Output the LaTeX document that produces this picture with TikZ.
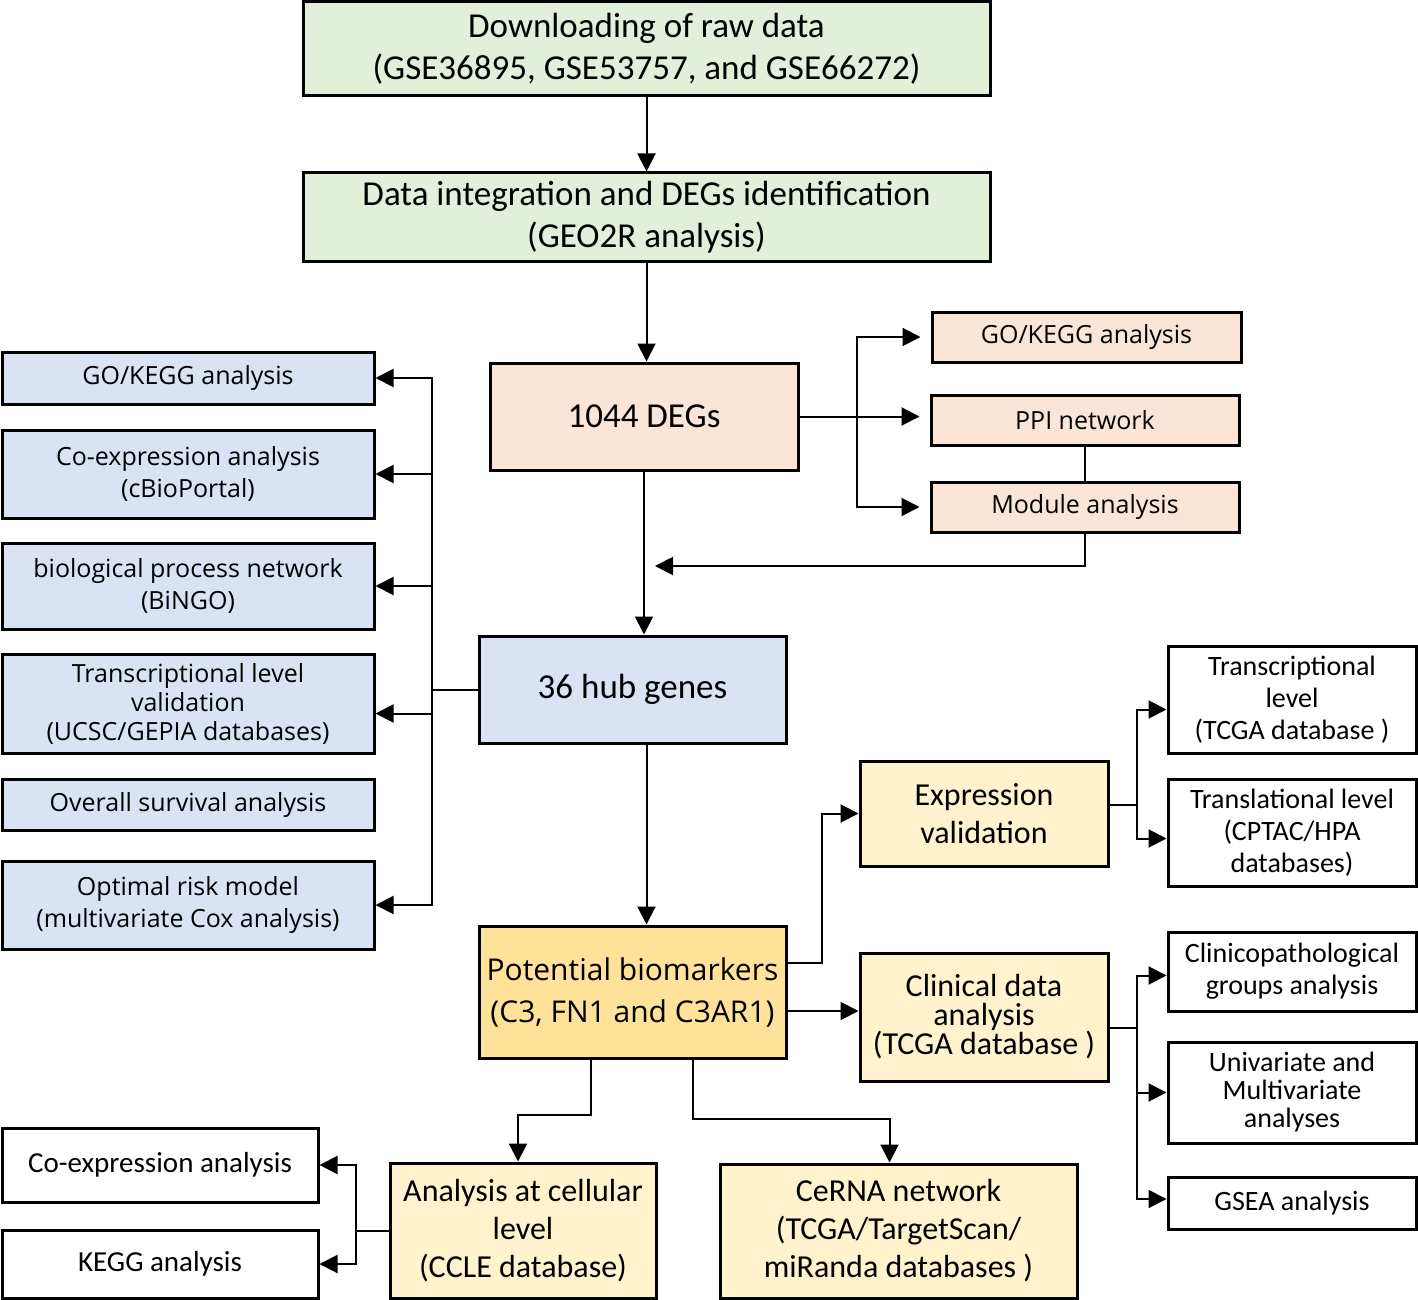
\documentclass[tikz,border=0pt]{standalone}
\usepackage{fontspec}
\setmainfont{Carlito}
\newfontfamily\osfont{Open Sans}
\usetikzlibrary{positioning}
\usetikzlibrary{arrows.meta}
\definecolor{flowgreen}{HTML}{E2EFD9}
\definecolor{flowsalmon}{HTML}{FBE5D6}
\definecolor{flowblue}{HTML}{DAE3F3}
\definecolor{flowgold}{HTML}{FFE29A}
\definecolor{flowcream}{HTML}{FFF2CC}

\begin{document}
\begin{tikzpicture}[x=0.5pt, y=-0.5pt,
        box/.style={draw=black, line width=1.5pt, align=center, inner sep=1pt, text=black},
        bigfont/.style={font=\fontsize{17.5}{21}\selectfont},
        midfont/.style={font=\fontsize{16}{19}\selectfont},
        smallfont/.style={font=\fontsize{14}{16}\selectfont},
        osfont/.style={font=\osfont\fontsize{12.5}{16}\selectfont},
        arr/.style={line width=1pt, -{Triangle[length=9pt,width=9pt]}},
        line/.style={line width=1pt}]

        \useasboundingbox (0,0) rectangle (1418,1300);

        % Top boxes
        \node[box, bigfont, fill=flowgreen, minimum width=343.5pt, minimum height=47pt] (rawBox) at (646.5,49) {%
            Downloading of raw data \\ (GSE36895, GSE53757, and GSE66272)};
        \node[box, bigfont, fill=flowgreen, minimum width=343.5pt, minimum height=44.5pt] (geoBox) at (646.5,217.5) {%
            Data integration and DEGs identification \\ (GEO2R analysis)};

        % DEGs and its branches
        \node[box, bigfont, fill=flowsalmon, minimum width=154pt, minimum height=53.5pt] (degBox) at (644,416.5) {1044 DEGs};
        \node[box, osfont, fill=flowsalmon, minimum width=154.5pt, minimum height=25pt] (goRBox) at (1086.5,337) {GO/KEGG analysis};
        \node[box, osfont, fill=flowsalmon, minimum width=154pt, minimum height=25pt] (ppiBox) at (1085,420) {PPI network};
        \node[box, osfont, fill=flowsalmon, minimum width=154pt, minimum height=25pt] (modBox) at (1085,507) {Module analysis};
        \coordinate (modEnd) at (655,566);

        % Hub genes and left column
        \node[box, bigfont, fill=flowblue, minimum width=153.5pt, minimum height=53.5pt] (hubBox) at (632.5,689.5) {36 hub genes};
        \node[box, osfont, fill=flowblue, minimum width=186pt, minimum height=26pt] (goLBox) at (188,378) {GO/KEGG analysis};
        \node[box, osfont, fill=flowblue, minimum width=186pt, minimum height=44pt] (coexBox) at (188,474) {Co-expression analysis \\ (cBioPortal)};
        \node[box, osfont, fill=flowblue, minimum width=186pt, minimum height=43pt] (bingoBox) at (188,586) {biological process network \\ (BiNGO)};
        \node[box, font=\osfont\fontsize{12.5}{14.5}\selectfont, fill=flowblue, minimum width=186pt, minimum height=49.5pt] (ucscBox) at (188,703.5) {Transcriptional level \\ validation \\ (UCSC/GEPIA databases)};
        \node[box, osfont, fill=flowblue, minimum width=186pt, minimum height=25.5pt] (osBox) at (188,804.5) {Overall survival analysis};
        \node[box, osfont, fill=flowblue, minimum width=186pt, minimum height=44pt] (coxBox) at (188,905) {Optimal risk model \\ (multivariate Cox analysis)};

        % Biomarkers
        \node[box, font=\osfont\fontsize{15}{21}\selectfont, fill=flowgold, minimum width=153.5pt, minimum height=66pt] (bioBox) at (632.5,992) {Potential biomarkers \\ (C3, FN1 and C3AR1)};
        \node[box, midfont, fill=flowcream, minimum width=124pt, minimum height=52.5pt] (expBox) at (984,813.5) {Expression \\ validation};
        \node[box, font=\fontsize{16}{14.5}\selectfont, fill=flowcream, minimum width=124pt, minimum height=64pt] (clinBox) at (984,1017) {Clinical data \\ analysis \\ (TCGA database )};

        % Right column
        \node[box, smallfont, minimum width=124pt, minimum height=53.5pt] (tcgaBox) at (1292,699.5) {Transcriptional \\ level \\ (TCGA database )};
        \node[box, smallfont, minimum width=124pt, minimum height=53.5pt] (cptacBox) at (1292,832.5) {Translational level \\ (CPTAC/HPA \\ databases)};
        \node[box, smallfont, minimum width=124pt, minimum height=39.5pt] (cpgBox) at (1292,971.5) {Clinicopathological \\ groups analysis};
        \node[box, font=\fontsize{14}{14}\selectfont, minimum width=124pt, minimum height=50.5pt] (uniBox) at (1292,1092.5) {Univariate and \\ Multivariate \\ analyses};
        \node[box, smallfont, minimum width=124pt, minimum height=26pt] (gseaBox) at (1292,1203) {GSEA analysis};

        % Bottom row
        \node[box, midfont, fill=flowcream, minimum width=133pt, minimum height=67.5pt] (cellBox) at (523,1230.5) {Analysis at cellular \\ level \\ (CCLE database)};
        \node[box, midfont, fill=flowcream, minimum width=178.5pt, minimum height=67pt] (cernaBox) at (898.5,1231) {CeRNA network \\ (TCGA/TargetScan/ \\ miRanda databases )};
        \node[box, font=\fontsize{14.5}{16}\selectfont, minimum width=158pt, minimum height=37pt] (coexCBox) at (160,1165) {Co-expression analysis};
        \node[box, font=\fontsize{14.5}{16}\selectfont, minimum width=158pt, minimum height=34pt] (keggBox) at (160,1264) {KEGG analysis};

        % Connectors
        \draw[arr] (rawBox.south) -- (geoBox.north);
        \draw[arr] (geoBox.south) -- (geoBox.south |- degBox.north);
        \draw[line] (degBox.east) -- ++(28.5pt,0) coordinate (degSplit);
        \draw[arr, shorten >=5pt] (degSplit) |- (goRBox.west);
        \draw[arr, shorten >=5pt] (degSplit) -- (degSplit -| ppiBox.west);
        \draw[arr, shorten >=5pt] (degSplit) |- (modBox.west);
        \draw[line] (ppiBox.south) -- (modBox.north);
        \draw[arr] (modBox.south) |- (modEnd);
        \draw[arr] (degBox.south) -- (degBox.south |- hubBox.north);

        \draw[line] (hubBox.west) -- ++(-23pt,0) coordinate (hubSplit);
        \draw[arr] (hubSplit) |- (goLBox.east);
        \draw[arr] (hubSplit) |- (coexBox.east);
        \draw[arr] (hubSplit) |- (bingoBox.east);
        \draw[arr] (hubSplit) |- ([yshift=-5pt]ucscBox.east);
        \draw[arr] (hubSplit) |- (coxBox.east);
        \draw[arr] ([xshift=7pt]hubBox.south) -- ([xshift=7pt]bioBox.north);

        \draw[arr] ([yshift=14.5pt]bioBox.east) -- ++(17pt,0) |- (expBox.west);
        \draw[arr] ([yshift=-9.5pt]bioBox.east) -- ([yshift=-9.5pt]bioBox.east -| clinBox.west);

        \draw[line] ([yshift=4.5pt]expBox.east) -- ++(13.5pt,0) coordinate (expSplit);
        \draw[arr] (expSplit) |- ([yshift=-5pt]tcgaBox.west);
        \draw[arr] (expSplit) |- ([yshift=-3pt]cptacBox.west);
        \draw[line] ([yshift=-5.5pt]clinBox.east) -- ++(13.5pt,0) coordinate (clinSplit);
        \draw[arr] (clinSplit) |- ([yshift=-2pt]cpgBox.west);
        \draw[arr] (clinSplit) |- (uniBox.west);
        \draw[arr] (clinSplit) |- ([yshift=2pt]gseaBox.west);

        \draw[arr] ([xshift=-21pt]bioBox.south) -- ++(0,-27.5pt) -| ([xshift=-2.5pt]cellBox.north);
        \draw[arr] ([xshift=30pt]bioBox.south) -- ++(0,-29.5pt) -| ([xshift=-4.5pt]cernaBox.north);
        \draw[line] (cellBox.west) -- ++(-16.5pt,0) coordinate (cellSplit);
        \draw[arr] (cellSplit) |- (coexCBox.east);
        \draw[arr] (cellSplit) |- (keggBox.east);

    \end{tikzpicture}
\end{document}
